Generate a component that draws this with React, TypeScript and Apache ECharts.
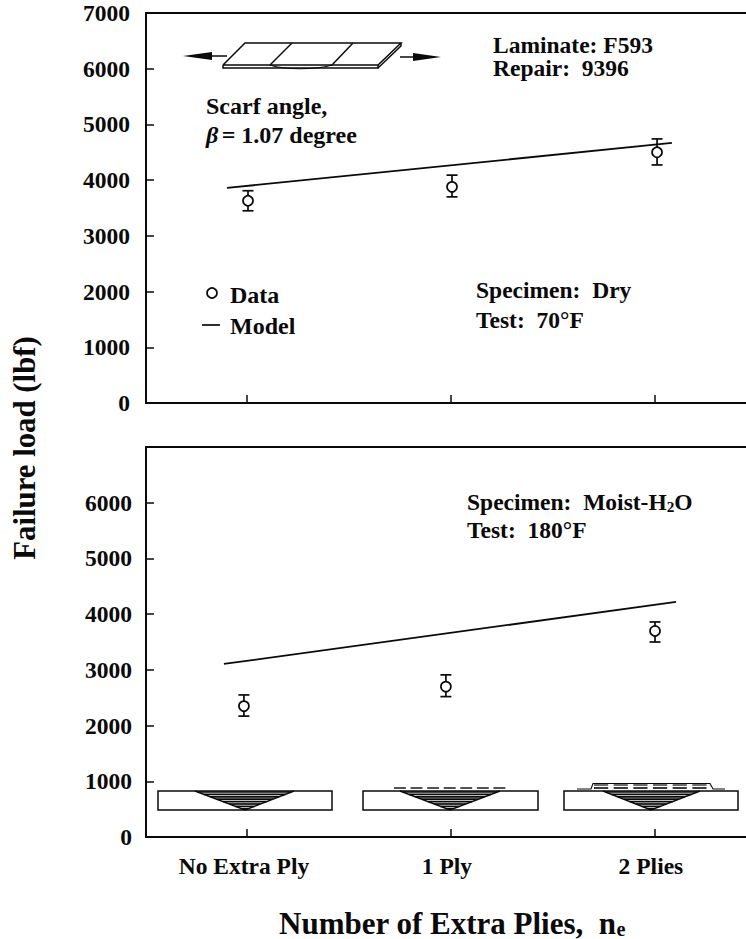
import React, { useEffect, useRef } from "react";
import * as echarts from "echarts";

const FONT = '"Liberation Serif", "Times New Roman", serif';
const xLabels = ["No Extra Ply", "1 Ply", "2 Plies"];
const xLabelPos = [-0.015, 0.98, 1.98];
const xTicks = [0, 1, 2];
const yTicks = [0, 1000, 2000, 3000, 4000, 5000, 6000, 7000];

const dryX = [0.005, 1.005, 2.01];
const dryMean = [3630, 3880, 4500];
const dryLow = [3450, 3700, 4273];
const dryHigh = [3810, 4090, 4740];
const dryModelX = [-0.098, 2.083];
const dryModelY = [3860, 4668];

const wetX = [-0.015, 0.975, 2.0];
const wetMean = [2350, 2700, 3698];
const wetLow = [2170, 2520, 3500];
const wetHigh = [2550, 2910, 3860];
const wetModelX = [-0.113, 2.103];
const wetModelY = [3106, 4219];

const pairs = (a: number[], b: number[]) => a.map((v, i) => [v, b[i]]);
const triples = (x: number[], lo: number[], hi: number[]) => x.map((v, i) => [v, lo[i], hi[i]]);

const INK = "#0a0a0a";
const errorRender = (_: any, api: any) => {
  const lo = api.coord([api.value(0), api.value(1)]);
  const hi = api.coord([api.value(0), api.value(2)]);
  const s = { stroke: INK, lineWidth: 1.7, fill: "none" };
  const cap = 5.5;
  return {
    type: "group",
    children: [
      { type: "line", shape: { x1: lo[0], y1: lo[1], x2: hi[0], y2: hi[1] }, style: s },
      { type: "line", shape: { x1: lo[0] - cap, y1: lo[1], x2: lo[0] + cap, y2: lo[1] }, style: s },
      { type: "line", shape: { x1: hi[0] - cap, y1: hi[1], x2: hi[0] + cap, y2: hi[1] }, style: s },
    ],
  };
};

const panelSeries = (gi: number, x: number[], mean: number[], lo: number[], hi: number[], mx: number[], my: number[]) => [
  {
    type: "line", xAxisIndex: gi * 2, yAxisIndex: gi, data: pairs(mx, my), showSymbol: false,
    lineStyle: { color: INK, width: 1.8 }, silent: true,
  },
  {
    type: "custom", xAxisIndex: gi * 2, yAxisIndex: gi, data: triples(x, lo, hi), renderItem: errorRender,
    encode: { x: 0, y: [1, 2] }, silent: true, z: 3,
  },
  {
    type: "scatter", xAxisIndex: gi * 2, yAxisIndex: gi, data: pairs(x, mean), symbol: "circle", symbolSize: 10,
    itemStyle: { color: "#fff", opacity: 1, borderColor: INK, borderWidth: 1.7 }, silent: true, z: 4,
  },
];

const xMin = -0.495;
const xMax = 2.446;

const xAxisPair = (gi: number, labels: boolean) => [
  {
    type: "value", gridIndex: gi, min: xMin, max: xMax, position: "bottom",
    splitLine: { show: false },
    axisLine: { show: true, onZero: false, lineStyle: { color: INK, width: 2 } },
    axisTick: { show: true, inside: true, length: 8, customValues: xTicks, lineStyle: { color: INK, width: 1.5 } },
    axisLabel: labels
      ? {
          show: true, customValues: xLabelPos, margin: 17, showMinLabel: true, showMaxLabel: true,
          formatter: (v: number) => xLabels[xLabelPos.indexOf(v)] ?? "",
          fontFamily: FONT, fontWeight: "bold", fontSize: 23.5, color: INK,
        }
      : { show: false },
  },
  {
    type: "value", gridIndex: gi, min: xMin, max: xMax, position: "top",
    splitLine: { show: false }, axisTick: { show: false }, axisLabel: { show: false },
    axisLine: { show: true, onZero: false, lineStyle: { color: INK, width: 2 } },
  },
];

const yAxis = (gi: number, hideTop: boolean) => ({
  type: "value", gridIndex: gi, min: 0, max: 7000, interval: 1000,
  splitLine: { show: false },
  axisLine: { show: true, onZero: false, lineStyle: { color: INK, width: 2 } },
  axisTick: { show: true, inside: true, length: 8, lineStyle: { color: INK, width: 1.5 } },
  axisLabel: {
    margin: hideTop ? 14 : 16, fontFamily: FONT, fontWeight: "bold", fontSize: 23.5, color: INK,
    formatter: (v: number) => (hideTop && v === 7000 ? "" : String(yTicks[v / 1000])),
  },
});

const label = (x: number, y: number, text: string, size = 23.5) => ({
  type: "text", x, y, silent: true,
  style: { text, fill: INK, font: `bold ${size}px ${FONT}`, verticalAlign: "middle" },
});

const richLabel = (x: number, y: number, text: string, size = 23.5) => ({
  type: "text", x, y, silent: true,
  style: {
    text, fill: INK, verticalAlign: "middle",
    rich: {
      a: { fontFamily: FONT, fontWeight: "bold", fontSize: size, fill: INK, color: INK },
      b: { fontFamily: FONT, fontWeight: "bold", fontStyle: "italic", fontSize: size, fill: INK, color: INK },
      s: { fontFamily: FONT, fontWeight: "bold", fontSize: size * 0.65, fill: INK, color: INK, verticalAlign: "bottom", padding: [size * 0.3, 0, 0, 0] },
    },
  },
});

const line = (x1: number, y1: number, x2: number, y2: number, w = 1.5) => ({
  type: "line", silent: true, shape: { x1, y1, x2, y2 }, style: { stroke: INK, lineWidth: w },
});
const poly = (points: number[][], w = 1.5) => ({
  type: "polyline", silent: true, shape: { points }, style: { stroke: INK, fill: "none", lineWidth: w },
});
const filled = (points: number[][]) => ({
  type: "polygon", silent: true, shape: { points }, style: { fill: INK },
});

// the little laminate section with its stepped, striped scarf wedge
const section = (x0: number, x1: number, tl: number, tr: number, apex: number) => {
  const top = 791, bot = 810;
  const out: any[] = [
    { type: "rect", silent: true, shape: { x: x0, y: top, width: x1 - x0, height: bot - top }, style: { fill: "#fff", stroke: INK, lineWidth: 1.5 } },
    poly([[tl, top], [apex, bot], [tr, top]], 1.5),
  ];
  for (let y = top + 1; y < bot - 1; y += 2.4) {
    const f = (y - top) / (bot - top);
    out.push(line(tl + (apex - tl) * f, y, tr - (tr - apex) * f, y, 1.7));
  }
  return out;
};

const dashes = (x0: number, x1: number, y: number, n: number, w = 1.4) => {
  const out: any[] = [];
  const step = (x1 - x0) / n;
  for (let i = 0; i < n; i++) out.push(line(x0 + i * step, y, x0 + i * step + step * 0.72, y, w));
  return out;
};

const graphics: any[] = [
  // specimen sketch
  poly([[223, 65], [245, 43], [401, 43], [378, 65], [223, 65]]),
  poly([[223, 65], [223, 68], [378, 68], [378, 65]]),
  poly([[378, 68], [401, 46], [401, 43]]),
  line(292, 43, 270, 65),
  line(353, 43, 332, 65),
  { type: "bezierCurve", silent: true, shape: { x1: 270, y1: 65, cpx1: 285, cpy1: 70, cpx2: 315, cpy2: 70, x2: 332, y2: 65 }, style: { stroke: INK, fill: "none", lineWidth: 1.2 } },
  filled([[183, 56], [212, 52], [212, 60]]),
  line(212, 56, 227, 56),
  filled([[441, 57], [413, 53], [413, 61]]),
  line(400, 57, 413, 57),
  // annotations
  label(493, 45, "Laminate: F593"),
  label(493, 68, "Repair:  9396"),
  label(206, 106, "Scarf angle,", 24),
  richLabel(206, 135, "{b|β} {a|= 1.07 degree}", 24),
  label(476, 290, "Specimen:  Dry"),
  label(476, 320, "Test:  70°F"),
  richLabel(467, 502, "{a|Specimen:  Moist-H}{s|2}{a|O}"),
  label(467, 530, "Test:  180°F"),
  // legend
  { type: "circle", silent: true, shape: { cx: 212, cy: 293, r: 5 }, style: { fill: "#fff", stroke: INK, lineWidth: 1.7 } },
  line(202, 325, 220, 325, 1.7),
  label(230, 295, "Data", 24),
  label(230, 326, "Model", 24),
  // axis titles
  { type: "text", x: 25, y: 448, rotation: Math.PI / 2, silent: true,
    style: { text: "Failure load (lbf)", fill: INK, font: `bold 30.8px ${FONT}`, align: "center", verticalAlign: "middle" } },
  richLabel(279, 923, "{a|Number of Extra Plies,  n}{s|e}", 31),
  // insets
  ...section(158, 332, 195, 294, 245),
  ...section(363, 538, 400, 500, 450),
  ...section(564, 738, 603, 700, 651),
  ...dashes(394, 510, 788, 7),
  ...dashes(594, 712, 788, 6, 1.6),
  ...dashes(594, 712, 785, 6, 1.2),
  poly([[577, 789], [591, 789], [593, 783.5], [710, 783.5], [713, 789], [725, 789]], 1.1),
];

const option: any = {
  animation: false,
  backgroundColor: "#fff",
  grid: [
    { left: 146, top: 13, width: 600, height: 390 },
    { left: 146, top: 447, width: 600, height: 390 },
  ],
  xAxis: [...xAxisPair(0, false), ...xAxisPair(1, true)],
  yAxis: [yAxis(0, false), yAxis(1, true)],
  series: [
    ...panelSeries(0, dryX, dryMean, dryLow, dryHigh, dryModelX, dryModelY),
    ...panelSeries(1, wetX, wetMean, wetLow, wetHigh, wetModelX, wetModelY),
  ],
  graphic: { elements: graphics },
};

export default function App() {
  const ref = useRef<HTMLDivElement>(null);
  useEffect(() => {
    const chart = echarts.init(ref.current!, undefined, { renderer: "svg" });
    chart.setOption(option);
    return () => chart.dispose();
  }, []);
  return <div ref={ref} style={{ position: "absolute", left: 0, top: 0, width: 746, height: 939 }} />;
}
